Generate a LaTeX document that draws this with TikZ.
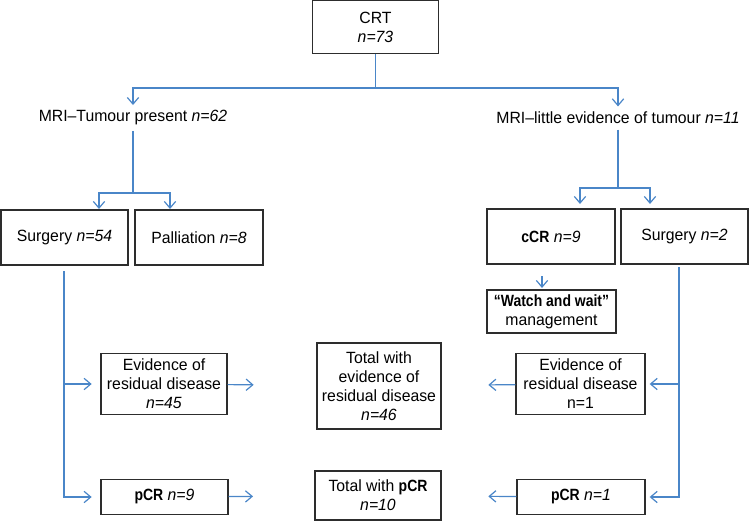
\documentclass[tikz,border=0pt]{standalone}
\usepackage{fontspec}
\setmainfont[FakeStretch=0.97,BoldFeatures={FakeStretch=0.86}]{Liberation Sans}
\usetikzlibrary{arrows.meta}
\definecolor{lineblue}{RGB}{74,134,200}
\definecolor{boxgray}{RGB}{45,45,45}

\begin{document}
\begin{tikzpicture}
[x=0.75pt,y=-0.75pt,
 font=\fontsize{12.2}{14.3}\selectfont,
 box/.style={draw=boxgray,line width=1pt,align=center,inner sep=0pt},
 sz/.style 2 args={minimum width=#1*0.75pt,minimum height=#2*0.75pt},
 lbl/.style={inner sep=4pt},
 link/.style={draw=lineblue,line width=0.9pt},
 arr/.style={link,-{Straight Barb[length=5pt,width=8.5pt]}}]
\useasboundingbox (0,0) rectangle (750,521);
\node[box,sz={126}{52.5}] (crt) at (375.5,27) {CRT\\\textit{n=73}};
\node[lbl] (mriL) at (133,118) {MRI–Tumour present \textit{n=62}};
\node[lbl] (mriR) at (618,118) {MRI–little evidence of tumour \textit{n=11}};
\node[box,sz={127}{55}] (surgL) at (64.5,237.5) {Surgery \textit{n=54}};
\node[box,sz={128}{55}] (pall) at (199,237.5) {Palliation \textit{n=8}};
\node[box,sz={128}{55}] (ccr) at (551,236.5) {\textbf{cCR} \textit{n=9}};
\node[box,sz={127}{55}] (surgR) at (684.5,236.5) {Surgery \textit{n=2}};
\node[box,sz={129}{43}] (watch) at (551.5,311.5) {\textbf{“Watch and wait”}\\management};
\node[box,sz={126}{61}] (evidL) at (164,384) {Evidence of\\residual disease\\\textit{n=45}};
\node[box,sz={124}{86}] (totE) at (379,386) {Total with\\evidence of\\residual disease\\\textit{n=46}};
\node[box,sz={129}{61}] (evidR) at (580.5,384) {Evidence of\\residual disease\\n=1};
\node[box,sz={127}{35}] (pcrL) at (164.5,497) {\textbf{pCR} \textit{n=9}};
\node[box,sz={126}{49}] (totP) at (378,495.5) {Total with \textbf{pCR}\\\textit{n=10}};
\node[box,sz={128}{35}] (pcrR) at (581,497) {\textbf{pCR} \textit{n=1}};
% junctions
\coordinate (j0) at (375.5,88);
\coordinate (j1) at (133,193);
\coordinate (j2) at (618,188);
\coordinate (aL1) at (99,209);
\coordinate (aL2) at (170,209);
\coordinate (aR1) at (580,204);
\coordinate (aR2) at (650,204);
\coordinate (sL) at (64,271);
\coordinate (sR) at (679,267);
\coordinate (w1) at (542,276);
\coordinate (w2) at (542,288);
% connectors
\draw[link] (crt) -- (j0);
\draw[arr] (j0) -| (mriL.north);
\draw[arr] (j0) -| (mriR.north);
\draw[link] (mriL) -- (j1);
\draw[arr] (j1) -| (aL1);
\draw[arr] (j1) -| (aL2);
\draw[link] (mriR) -- (j2);
\draw[arr] (j2) -| (aR1);
\draw[arr] (j2) -| (aR2);
\draw[arr] (w1) -- (w2);
\draw[arr,shorten >=6.5pt] (sL) |- (evidL.west);
\draw[arr,shorten >=6.5pt] (sL) |- (pcrL.west);
\draw[arr,shorten >=47pt] (evidL) -- (totE);
\draw[arr,shorten >=46pt] (pcrL) -- (totP);
\draw[arr,shorten >=3pt] (sR) |- (evidR.east);
\draw[arr,shorten >=3pt] (sR) |- (pcrR.east);
\draw[arr,shorten >=35pt] (evidR) -- (totE);
\draw[arr,shorten >=35pt] (pcrR) -- (totP);
\end{tikzpicture}
\end{document}
